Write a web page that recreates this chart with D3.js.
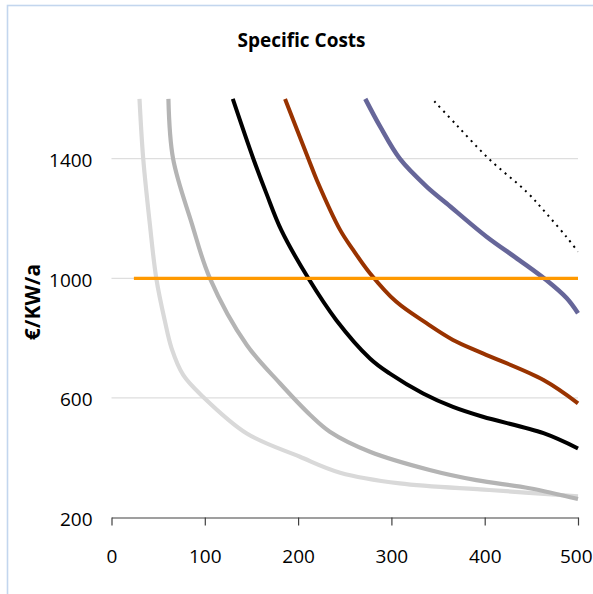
<!DOCTYPE html>
<html>
<head>
<meta charset="utf-8">
<script src="https://cdn.jsdelivr.net/npm/d3@7"></script>
<style>
html,body{margin:0;padding:0;background:#fff;}
svg{display:block;}
</style>
</head>
<body>
<svg id="chart" width="593" height="594"></svg>
<script>
// ---- data ----
const chartTitle = "Specific Costs";
const yTitle = "€/KW/a";
const xTicks = [0, 100, 200, 300, 400, 500];
const yTicks = [200, 600, 1000, 1400];

const xLight = [30, 34, 41, 48, 57, 64.5, 77, 98, 145, 202, 245, 309, 405, 500];
const yLight = [1600, 1400, 1184, 1000, 860, 765, 676, 604, 481, 403, 350, 314, 292, 271];

const xMid = [61, 66, 86, 105.5, 145, 180.5, 213, 234, 277, 341, 391, 448, 500];
const yMid = [1600, 1400, 1184, 1000, 777, 649, 543, 487, 420, 359, 325, 298, 262];

const xBlack = [130, 152, 166, 182, 211, 241, 277, 298, 334, 366, 398, 463, 500];
const yBlack = [1600, 1400, 1284, 1161, 1000, 860, 732, 682, 615, 570, 537, 482, 431];

const xBrown = [186, 211, 220, 245, 259, 277, 305, 338, 366, 398, 463, 500];
const yBrown = [1600, 1400, 1329, 1162, 1095, 1017, 922, 849, 794, 749, 660, 582];

const xBlue = [272, 288, 309, 338, 359, 402, 437, 466, 488, 500];
const yBlue = [1600, 1507, 1400, 1306, 1251, 1139, 1061, 994, 933, 883];

const xDot = [346, 370, 405, 445, 466, 488, 500];
const yDot = [1592, 1512, 1398, 1289, 1217, 1137, 1089];

const xLimit = [24, 500];
const yLimit = [1000, 1000];

// ---- drawing ----
const svg = d3.select("#chart");

svg.append("rect").attr("x", 7.5).attr("y", 5.5).attr("width", 700).attr("height", 700)
  .attr("fill", "#fff").attr("stroke", "#c3d6ee").attr("stroke-width", 1.6);

const x = d3.scaleLinear().domain([0, 500]).range([111.5, 578]);
const y = d3.scaleLinear().domain([200, 1600]).range([517.5, 98.9]);

// gridlines
svg.append("g").selectAll("line").data(yTicks.filter(v => v > 200)).join("line")
  .attr("x1", x(0)).attr("x2", x(500))
  .attr("y1", d => y(d)).attr("y2", d => y(d))
  .attr("stroke", "#dedede").attr("stroke-width", 1.3);

// x axis
const xAxis = d3.axisBottom(x).tickValues(xTicks).tickFormat(d3.format("d"))
  .tickSize(8).tickSizeOuter(0).tickPadding(24);
const gx = svg.append("g").attr("transform", `translate(0,${y(200)})`).call(xAxis);
gx.select(".domain").attr("stroke", "#404040").attr("stroke-width", 1.2);
gx.selectAll(".tick line").attr("stroke", "#404040").attr("stroke-width", 1.2);
gx.selectAll("text").attr("font-family", "Open Sans, sans-serif").attr("font-size", 19)
  .attr("fill", "#000");
// keep last label inside the picture
gx.selectAll(".tick text").filter(d => d === 500).attr("text-anchor", "end").attr("x", 14);

// y axis labels (no line)
const yAxis = d3.axisLeft(y).tickValues(yTicks).tickFormat(d3.format("d")).tickSize(0).tickPadding(19);
const gy = svg.append("g").attr("transform", `translate(${x(0)},0)`).call(yAxis);
gy.select(".domain").remove();
gy.selectAll("text").attr("font-family", "Open Sans, sans-serif").attr("font-size", 19)
  .attr("fill", "#000").attr("dy", "0.42em");

const line = d3.line().x(d => x(d[0])).y(d => y(d[1])).curve(d3.curveCatmullRom.alpha(0.5));
const zip = (a, b) => a.map((v, i) => [v, b[i]]);

const series = [
  {xs: xLight, ys: yLight, color: "#d9d9d9", w: 4.2},
  {xs: xMid, ys: yMid, color: "#b4b4b4", w: 4.2},
  {xs: xBlack, ys: yBlack, color: "#000000", w: 4},
  {xs: xBrown, ys: yBrown, color: "#993300", w: 4},
  {xs: xBlue, ys: yBlue, color: "#666699", w: 4.5},
  {xs: xLimit, ys: yLimit, color: "#ff9900", w: 3.3},
];
svg.append("g").selectAll("path").data(series).join("path")
  .attr("d", s => line(zip(s.xs, s.ys)))
  .attr("fill", "none")
  .attr("stroke", s => s.color)
  .attr("stroke-width", s => s.w)
  .attr("stroke-linejoin", "round");

svg.append("path").attr("d", line(zip(xDot, yDot)))
  .attr("fill", "none").attr("stroke", "#000").attr("stroke-width", 2)
  .attr("stroke-dasharray", "2 4.7");

// titles
svg.append("text").attr("x", 301.5).attr("y", 47).attr("text-anchor", "middle")
  .attr("font-family", "Open Sans, sans-serif").attr("font-weight", "bold").attr("font-size", 19)
  .text(chartTitle);

svg.append("text").attr("transform", "translate(40,302) rotate(-90)").attr("text-anchor", "middle")
  .attr("font-family", "Open Sans, sans-serif").attr("font-weight", "bold").attr("font-size", 21)
  .text(yTitle);
</script>
</body>
</html>
